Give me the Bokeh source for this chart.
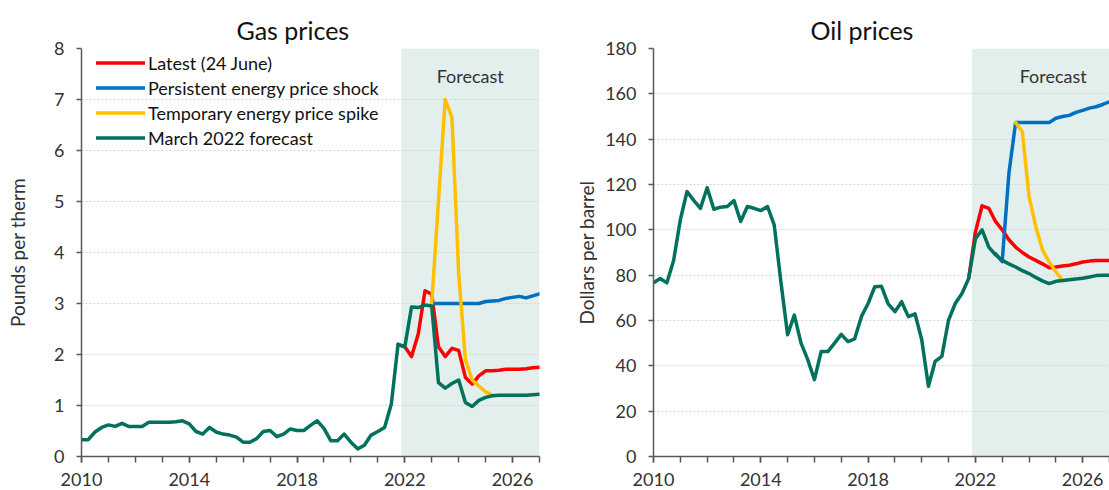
from bokeh.plotting import figure
from bokeh.layouts import row
from bokeh.models import Range1d, FixedTicker, BoxAnnotation, Label
from bokeh.embed import file_html
from bokeh.resources import INLINE

FONT = "Lato"

# ---------------- data (quarterly, first value at the given start) ----------------
YEAR_TICKS = [2010, 2014, 2018, 2022, 2026]
YEAR_MINOR = [2010, 2011, 2012, 2013, 2014, 2015, 2016, 2017, 2018, 2019,
              2020, 2021, 2022, 2023, 2024, 2025, 2026, 2027]
GAS_YTICKS = [0, 1, 2, 3, 4, 5, 6, 7, 8]
OIL_YTICKS = [0, 20, 40, 60, 80, 100, 120, 140, 160, 180]
FORECAST_START = 2021.875
SERIES_NAMES = ["Latest (24 June)", "Persistent energy price shock",
                "Temporary energy price spike", "March 2022 forecast"]

# Gas prices, pounds per therm
gas_march_start = 2010.0
gas_march = [0.33, 0.33, 0.48, 0.57,
             0.62, 0.59, 0.65, 0.59,
             0.59, 0.59, 0.67, 0.67,
             0.67, 0.67, 0.68, 0.70,
             0.64, 0.49, 0.44, 0.57,
             0.48, 0.44, 0.42, 0.38,
             0.28, 0.28, 0.35, 0.49,
             0.51, 0.39, 0.44, 0.54,
             0.51, 0.51, 0.61, 0.70,
             0.55, 0.31, 0.31, 0.44,
             0.28, 0.15, 0.22, 0.42,
             0.49, 0.57, 1.03, 2.20,
             2.15, 2.93, 2.92, 2.97,
             2.95, 1.45, 1.34, 1.43,
             1.50, 1.06, 0.98, 1.10,
             1.16, 1.19, 1.20, 1.20,
             1.20, 1.20, 1.20, 1.21,
             1.22]
gas_latest_start = 2021.75
gas_latest = [2.20,
              2.15, 1.96, 2.40, 3.25,
              3.18, 2.15, 1.96, 2.12,
              2.08, 1.55, 1.42, 1.58,
              1.68, 1.68, 1.69, 1.71,
              1.71, 1.71, 1.72, 1.74,
              1.75]
gas_persistent_start = 2023.0
gas_persistent = [3.00, 3.00, 3.00, 3.00,
                  3.00, 3.00, 3.00, 3.00,
                  3.04, 3.05, 3.06, 3.10,
                  3.12, 3.14, 3.11, 3.15,
                  3.19]
gas_temporary_start = 2023.0
gas_temporary = [3.00, 5.00, 7.00, 6.65,
                 3.60, 1.90, 1.50, 1.38,
                 1.27, 1.20]

# Oil prices, dollars per barrel
oil_march_start = 2010.0
oil_march = [76.6, 78.5, 76.6, 86.5,
             104.4, 116.9, 113.0, 109.5,
             118.6, 109.1, 110.0, 110.3,
             112.9, 103.7, 110.3, 109.5,
             108.5, 110.3, 102.2, 77.0,
             53.7, 62.4, 50.0, 42.7,
             33.9, 46.3, 46.3, 50.0,
             53.9, 50.7, 51.9, 61.7,
             67.5, 74.9, 75.1, 67.3,
             63.9, 68.3, 61.7, 62.9,
             51.5, 31.0, 42.0, 44.2,
             60.2, 67.5, 71.9, 78.5,
             96.0, 100.0, 92.4, 89.0,
             86.5, 85.0, 83.6, 82.0,
             80.7, 79.0, 77.5, 76.3,
             77.3, 77.6, 78.0, 78.3,
             78.6, 79.2, 79.8, 80.0,
             80.0]
oil_latest_start = 2021.75
oil_latest = [78.5,
              99.0, 110.6, 109.5, 103.7,
              100.0, 95.6, 92.4, 90.0,
              88.0, 86.5, 85.0, 83.3,
              83.6, 84.0, 84.4, 85.0,
              85.8, 86.2, 86.5, 86.5,
              86.5]
oil_persistent_start = 2022.75
oil_persistent = [89.5,
                  86.0, 125.0, 147.3, 147.3,
                  147.3, 147.3, 147.3, 147.3,
                  149.2, 150.0, 150.5, 151.8,
                  152.7, 153.7, 154.3, 155.3,
                  156.5]
oil_temporary_start = 2023.5
oil_temporary = [147.3, 143.3,
                 114.7, 101.5, 91.2, 85.8,
                 81.5, 77.6]

COLORS = ["#ff0000", "#0070c0", "#ffc000", "#00715d"]
SHADE = "#e2efec"
AXIS_COL = "#595959"
TEXT_COL = "#333333"


def qx(start, vals):
    return [start + 0.25 * i for i in range(len(vals))]


def make_panel(title, ylabel, ymax, yticks, series, width, mb_left, mb_right,
               title_offset, ylabel_standoff, forecast_x, with_legend):
    p = figure(width=width, height=490, output_backend="svg", toolbar_location=None,
               x_range=Range1d(2010, 2027), y_range=Range1d(0, ymax),
               min_border_left=mb_left, min_border_right=mb_right,
               min_border_top=48, min_border_bottom=34)
    p.outline_line_color = None
    p.background_fill_color = "white"
    p.border_fill_color = "white"

    p.title.text = title
    p.title.align = "left"
    p.title.offset = title_offset
    p.title.text_font = FONT
    p.title.text_font_size = "25px"
    p.title.text_font_style = "normal"
    p.title.text_color = "#111111"
    p.title.standoff = 7

    p.add_layout(BoxAnnotation(left=FORECAST_START, fill_color=SHADE, fill_alpha=1.0,
                               line_color=None, level="image"))

    p.xgrid.grid_line_color = None
    p.ygrid.grid_line_color = "#d4d4d4"
    p.ygrid.grid_line_dash = "2 2"
    p.ygrid.grid_line_width = 1

    p.xaxis.ticker = FixedTicker(ticks=YEAR_TICKS, minor_ticks=YEAR_MINOR)
    p.yaxis.ticker = FixedTicker(ticks=yticks, minor_ticks=[])
    for ax in (p.xaxis[0], p.yaxis[0]):
        ax.axis_line_color = AXIS_COL
        ax.axis_line_width = 1.5
        ax.major_tick_line_color = AXIS_COL
        ax.major_tick_line_width = 1.5
        ax.minor_tick_line_color = AXIS_COL
        ax.minor_tick_line_width = 1.5
        ax.major_tick_in = 0
        ax.minor_tick_in = 0
        ax.major_label_text_font = FONT
        ax.major_label_text_font_size = "18px"
        ax.major_label_text_color = TEXT_COL
    p.xaxis.major_tick_out = 6
    p.xaxis.minor_tick_out = 6
    p.xaxis.major_label_standoff = 10
    p.yaxis.major_tick_out = 5
    p.yaxis.minor_tick_out = 0
    p.yaxis.major_label_standoff = 12

    p.yaxis.axis_label = ylabel
    p.yaxis.axis_label_text_font = FONT
    p.yaxis.axis_label_text_font_size = "19px"
    p.yaxis.axis_label_text_font_style = "normal"
    p.yaxis.axis_label_text_color = TEXT_COL
    p.yaxis.axis_label_standoff = ylabel_standoff

    for (start, vals), color, name in zip(series, COLORS, SERIES_NAMES):
        kw = dict(legend_label=name) if with_legend else {}
        p.line(qx(start, vals), vals, line_color=color, line_width=3.5,
               line_join="round", line_cap="round", **kw)

    p.add_layout(Label(x=forecast_x, y=381, x_units="data", y_units="screen",
                       text="Forecast", text_align="center", text_baseline="middle",
                       text_font=FONT, text_font_size="18px", text_color=TEXT_COL))

    if with_legend:
        lg = p.legend[0]
        lg.location = (15, 306)
        lg.border_line_color = None
        lg.background_fill_alpha = 0
        lg.padding = 0
        lg.margin = 0
        lg.spacing = 0
        lg.label_height = 25
        lg.glyph_height = 25
        lg.glyph_width = 49
        lg.label_standoff = 3
        lg.label_text_font = FONT
        lg.label_text_font_size = "18px"
        lg.label_text_color = "#111111"
    return p


gas_series = [(gas_latest_start, gas_latest), (gas_persistent_start, gas_persistent),
              (gas_temporary_start, gas_temporary), (gas_march_start, gas_march)]
oil_series = [(oil_latest_start, oil_latest), (oil_persistent_start, oil_persistent),
              (oil_temporary_start, oil_temporary), (oil_march_start, oil_march)]

p1 = make_panel("Gas prices", "Pounds per therm", 8, GAS_YTICKS, gas_series,
                width=560, mb_left=81, mb_right=21, title_offset=155,
                ylabel_standoff=22, forecast_x=2024.43, with_legend=True)
p2 = make_panel("Oil prices", "Dollars per barrel", 180, OIL_YTICKS, oil_series,
                width=549, mb_left=93, mb_right=0, title_offset=157,
                ylabel_standoff=4, forecast_x=2024.9, with_legend=False)

layout = row(p1, p2)
open("out.html", "w").write(file_html(layout, INLINE))
